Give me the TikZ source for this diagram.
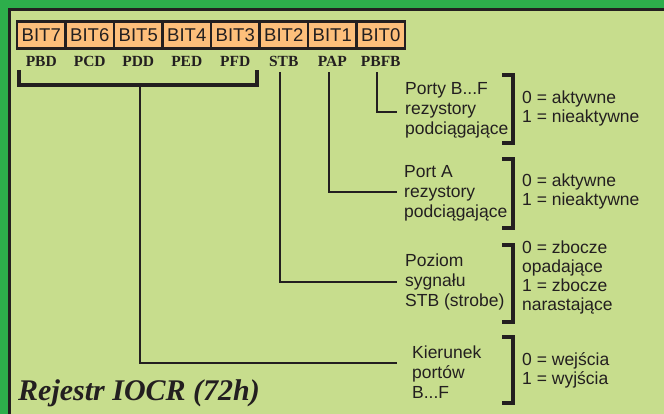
\documentclass[tikz,border=0pt]{standalone}
\usepackage{fontspec}
\setmainfont{Liberation Serif}
\setsansfont{Liberation Sans}
\definecolor{framegreen}{HTML}{2DAE4B}
\definecolor{ink}{HTML}{231F20}
\definecolor{bgc}{HTML}{C7DD8D}
\definecolor{bitorange}{HTML}{FDBF7B}
\tikzset{
  bitbox/.style={draw=ink, line width=2.6pt, fill=bitorange, minimum width=48.5pt, minimum height=27pt, inner sep=0pt, text=ink, font=\sffamily\fontsize{18.5}{18.5}\selectfont},
  lab/.style={inner sep=2pt, text=ink, font=\rmfamily\bfseries\fontsize{15.5}{15.5}\selectfont},
  txt/.style={anchor=west, align=left, inner sep=0pt, text=ink, font=\sffamily\fontsize{17.5}{20}\selectfont},
  val/.style={anchor=west, align=left, inner sep=0pt, text=ink, font=\sffamily\fontsize{17.5}{19}\selectfont},
  conn/.style={draw=ink, line width=2pt},
  brk/.style={draw=ink, line width=3.2pt},
}
\begin{document}
\begin{tikzpicture}[x=1pt,y=-1pt]
\useasboundingbox (0,0) rectangle (664,414);
\fill[framegreen] (0,0) rectangle (672,422);
\fill[ink] (8,8) rectangle (672,422);
\fill[bgc] (11,11) rectangle (672,422);
% bit boxes
\foreach \i/\n/\l in {0/7/PBD,1/6/PCD,2/5/PDD,3/4/PED,4/3/PFD,5/2/STB,6/1/PAP,7/0/PBFB}{
  \node[bitbox] (b\n) at ({17+48.5*(\i+0.5)},35) {BIT\n};
  \node[lab] (l\n) at ({17+48.5*(\i+0.5)},61) {\l};
}
% descriptions
\node[txt] (t0) at (405,110) {Porty B...F\\rezystory\\podciągające};
\node[val] (r0) at (522,108) {0 = aktywne\\1 = nieaktywne};
\node[txt] (t1) at (404,193) {Port A\\rezystory\\podciągające};
\node[val] (r1) at (522,191.5) {0 = aktywne\\1 = nieaktywne};
\node[txt] (t2) at (405,282) {Poziom\\sygnału\\STB (strobe)};
\node[val] (r2) at (522,277.5) {0 = zbocze\\opadające\\1 = zbocze\\narastające};
\node[txt] (t3) at (412,372) {Kierunek\\portów\\B...F};
\node[val] (r3) at (522,370) {0 = wejścia\\1 = wyjścia};
% right brackets
\draw[brk] (502,75) -- (513,75) -- (513,143) -- (502,143);
\draw[brk] (502,159) -- (513,159) -- (513,228) -- (502,228);
\draw[brk] (502,245) -- (513,245) -- (513,322) -- (502,322);
\draw[brk] (502,337) -- (513,337) -- (513,403) -- (502,403);
% connector ends
\coordinate (e0) at (397,112);
\coordinate (e1) at (397,192);
\coordinate (e2) at (397,282);
\coordinate (e3) at (397,363);
\coordinate (s7) at (140,85);
% connectors
\draw[conn] ([xshift=-3.5pt,yshift=-4pt]l0.south) |- (e0);
\draw[conn] ([xshift=-3.5pt,yshift=-4pt]l1.south) |- (e1);
\draw[conn] ([xshift=-3.5pt,yshift=-4pt]l2.south) |- (e2);
\draw[brk] (19,70) -- (19,85) -- (257,85) -- (257,70);
\draw[conn] (s7) |- (e3);
% title
\node[anchor=base west, inner sep=0pt, text=ink, font=\rmfamily\bfseries\itshape\fontsize{30}{30}\selectfont] (title) at (18,400) {Rejestr IOCR (72h)};
\end{tikzpicture}
\end{document}
